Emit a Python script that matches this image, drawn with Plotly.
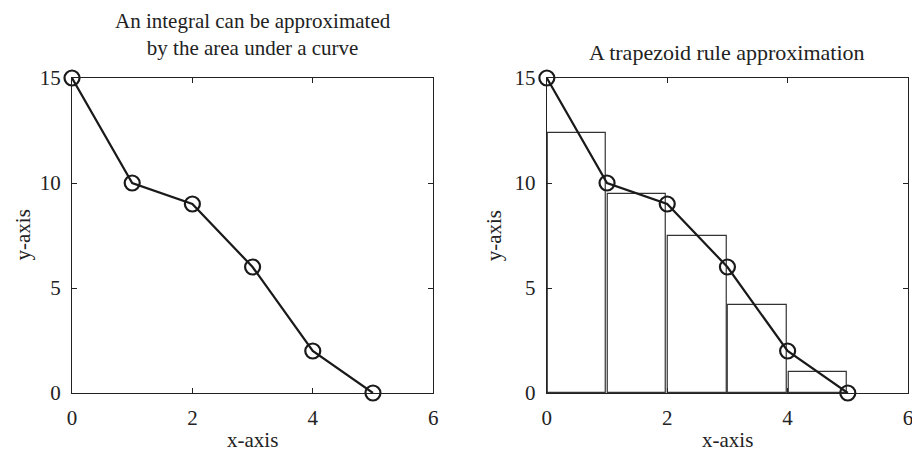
import plotly.graph_objects as go
from plotly.subplots import make_subplots

# data
x = [0, 1, 2, 3, 4, 5]
y = [15, 10, 9, 6, 2, 0]
bar_left = [0, 1, 2, 3, 4]
bar_height = [12.4, 9.5, 7.5, 4.2, 1.0]
x_ticks = [0, 2, 4, 6]
y_ticks = [0, 5, 10, 15]

FONT = "Liberation Serif"
INK = "#222222"

fig = make_subplots(rows=1, cols=2, horizontal_spacing=0.136)

# trapezoid bars on the right panel
fig.add_trace(
    go.Bar(
        x=[b + 0.5 for b in bar_left],
        y=bar_height,
        width=0.97,
        marker=dict(color="rgba(255,255,255,0)", line=dict(color="#333333", width=1.2)),
        showlegend=False,
        hoverinfo="skip",
    ),
    row=1, col=2,
)

for col in (1, 2):
    fig.add_trace(
        go.Scatter(
            x=x,
            y=y,
            mode="lines+markers",
            line=dict(color="#1a1a1a", width=2.2),
            marker=dict(symbol="circle-open", size=15, color="#1a1a1a", line=dict(width=2.2)),
            cliponaxis=False,
            showlegend=False,
        ),
        row=1, col=col,
    )

axis_style = dict(
    showgrid=False,
    zeroline=False,
    showline=True,
    mirror="ticks",
    linecolor=INK,
    linewidth=1.2,
    ticks="inside",
    ticklen=5,
    tickcolor=INK,
    tickfont=dict(family=FONT, size=21, color=INK),
    ticklabeloverflow="allow",
    ticklabelstandoff=6,
)

for col in (1, 2):
    fig.update_xaxes(axis_style, range=[0, 6], tickvals=x_ticks, row=1, col=col)
    fig.update_yaxes(axis_style, range=[0, 15], tickvals=y_ticks, row=1, col=col)

title_font = dict(family=FONT, size=22, color=INK)
text_font = dict(family=FONT, size=21, color=INK)


def note(text, xd, x, y, xshift=0, yshift=0, font=text_font, angle=0):
    return dict(text=text, x=x, y=y, xref=xd, yref="paper", xanchor="center",
                yanchor="middle", xshift=xshift, yshift=yshift, textangle=angle,
                showarrow=False, font=font)


annotations = [
    note("An integral can be approximated<br>by the area under a curve", "x domain", 0.5, 1,
         yshift=44, font=dict(family=FONT, size=21, color=INK)),
    note("A trapezoid rule approximation", "x2 domain", 0.5, 1, yshift=26, font=title_font),
    note("x-axis", "x domain", 0.5, 0, yshift=-47),
    note("x-axis", "x2 domain", 0.5, 0, yshift=-47),
    note("y-axis", "x domain", 0, 0.5, xshift=-50, angle=-90),
    note("y-axis", "x2 domain", 0, 0.5, xshift=-53, angle=-90),
]

# page body has an 8px margin, so the figure is drawn 8px smaller and shifted
fig.update_layout(
    width=912,
    height=444,
    margin=dict(l=64, r=7, t=70, b=59),
    plot_bgcolor="white",
    paper_bgcolor="white",
    font=dict(family=FONT, color=INK),
    bargap=0,
    annotations=annotations,
)

fig.write_html("out.html")
